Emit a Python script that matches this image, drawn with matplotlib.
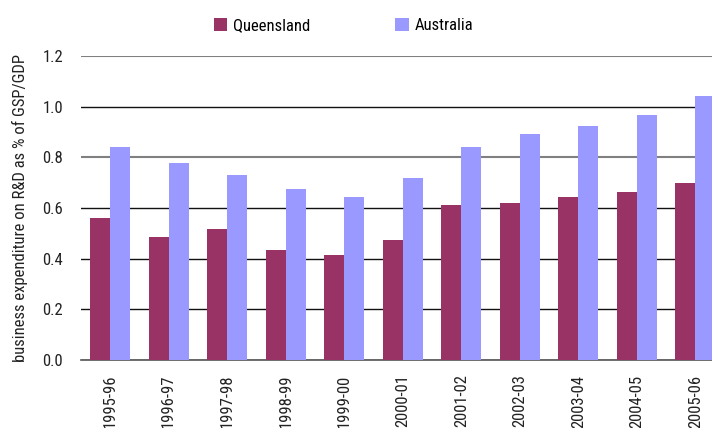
import matplotlib
matplotlib.use("Agg")
import matplotlib.pyplot as plt
import numpy as np

years = ["1995-96", "1996-97", "1997-98", "1998-99", "1999-00", "2000-01",
         "2001-02", "2002-03", "2003-04", "2004-05", "2005-06"]
queensland = [0.56, 0.485, 0.517, 0.434, 0.414, 0.473, 0.611, 0.619, 0.643, 0.663, 0.698]
australia = [0.84, 0.777, 0.73, 0.675, 0.643, 0.718, 0.84, 0.891, 0.923, 0.966, 1.041]
yticks = [0.0, 0.2, 0.4, 0.6, 0.8, 1.0, 1.2]

plt.rcParams['font.family'] = ['Roboto Condensed', 'Liberation Sans', 'DejaVu Sans']

fig = plt.figure(figsize=(7.12, 4.28), dpi=100)
ax = fig.add_axes([81/712, 1-360/428, 643.5/712, 304/428])

x = np.arange(len(years))
w = 0.342
ax.bar(x - w/2, queensland, width=w, color="#993366", label="Queensland", zorder=3)
ax.bar(x + w/2, australia, width=w, color="#9999FF", label="Australia", zorder=3)

ax.set_xlim(-0.5, len(years) - 0.5)
ax.set_ylim(0, 1.2)
ax.set_yticks(yticks)
ax.set_yticklabels([f"{v:.1f}" for v in yticks], fontsize=12, color="#222222")
ax.set_xticks(x)
ax.set_xticklabels(years, rotation=90, fontsize=12, color="#222222")
ax.tick_params(axis='y', length=0, pad=13)
ax.tick_params(axis='x', length=0, pad=10.5)
ax.grid(axis='y', color="#111111", linewidth=1.0, zorder=0)
for gl, v in zip(ax.get_ygridlines(), yticks):
    if v in (0.8, 1.2):
        gl.set_color("#808080")
        gl.set_linewidth(1.5)
for s in ["left", "right", "top"]:
    ax.spines[s].set_visible(False)
ax.spines["bottom"].set_color("#555555")
ax.spines["bottom"].set_linewidth(1.2)
ax.set_ylabel("business expenditure on R&D as % of GSP/GDP", fontsize=12, color="#222222", labelpad=10)

leg = fig.legend(loc="upper left", bbox_to_anchor=(199/712, 1.0 - 3/428), ncol=2, frameon=False,
                 fontsize=12, handlelength=0.8, handleheight=0.8, columnspacing=5.1,
                 handletextpad=0.35)

fig.savefig("out.png", dpi=100)
